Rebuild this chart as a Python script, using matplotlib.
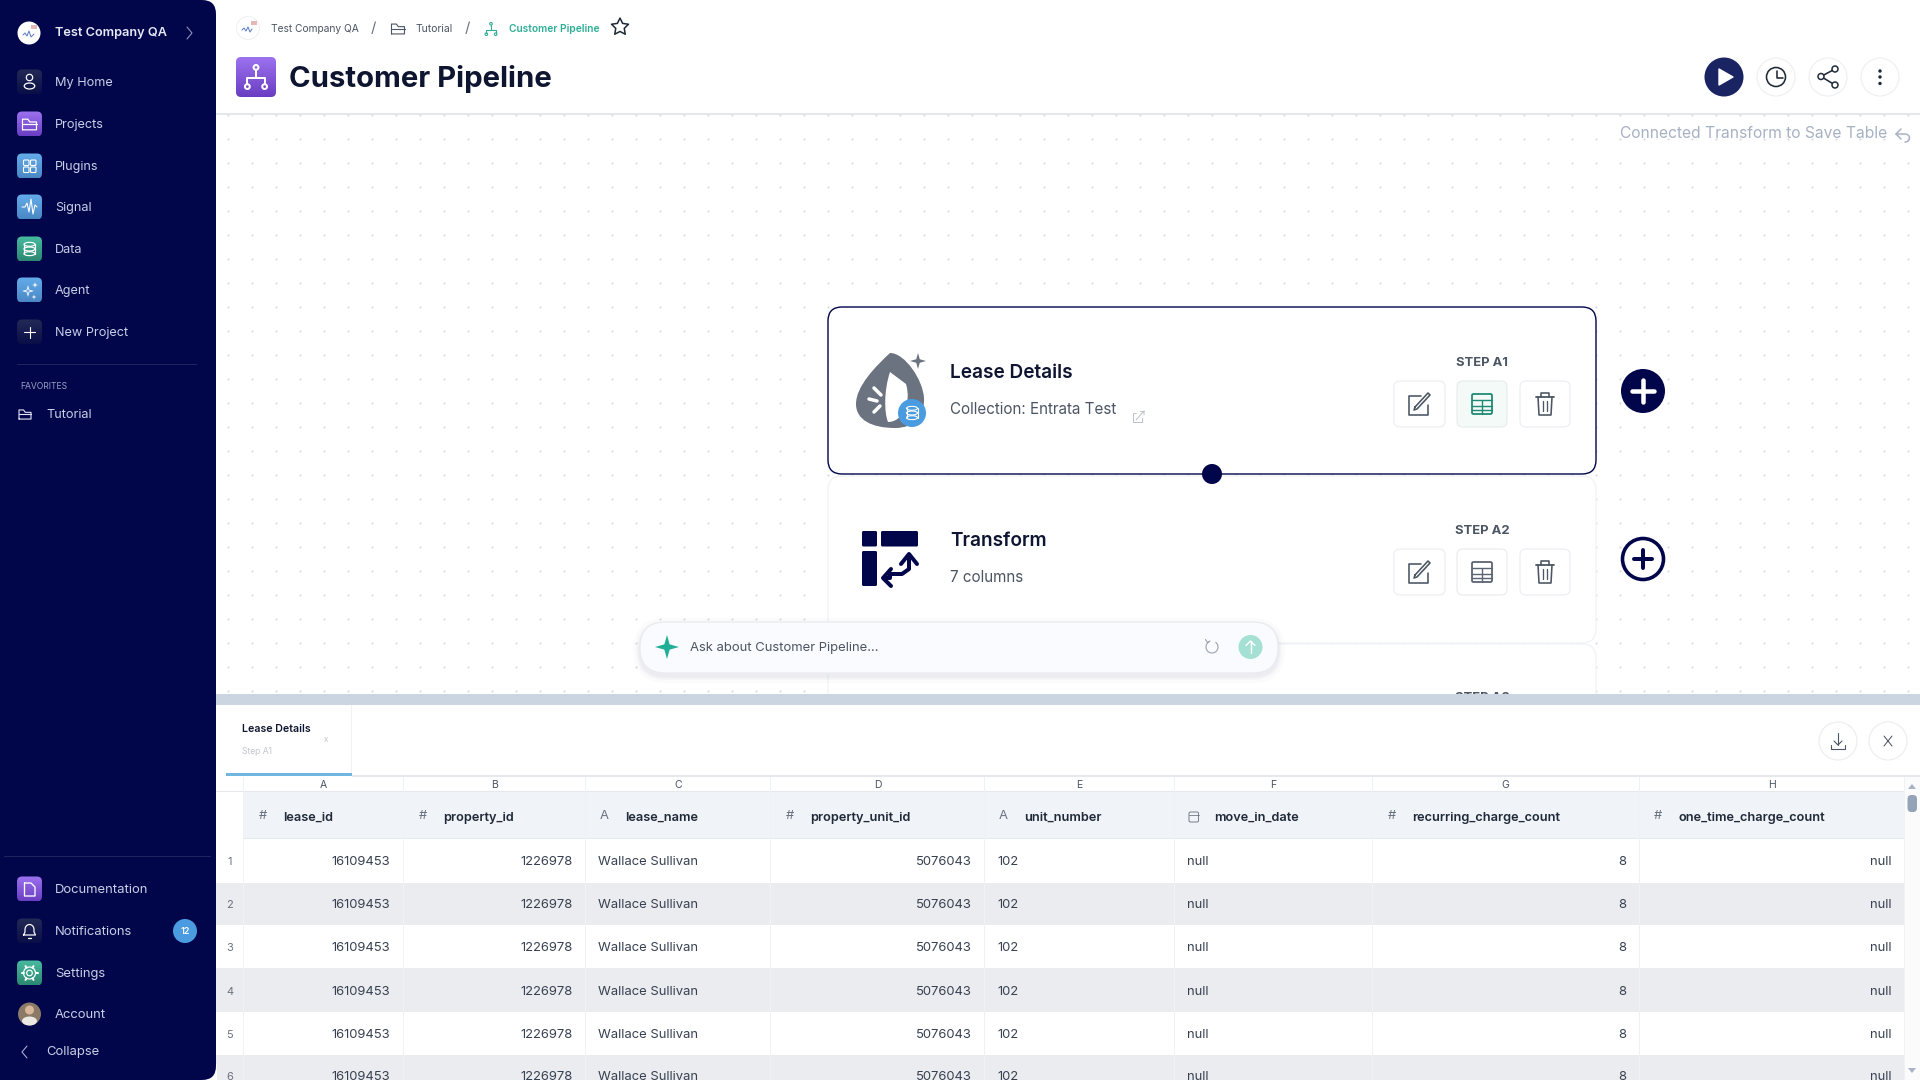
#!/usr/bin/env python3

"""
Customer Pipeline screen, drawn in pixel coordinates on one full-figure axes.
"""

import numpy as np
import matplotlib
matplotlib.use("Agg")
import matplotlib.pyplot as plt
from matplotlib.colors import LinearSegmentedColormap
from matplotlib.patches import Circle, Ellipse, FancyBboxPatch, PathPatch, Polygon, Rectangle
from matplotlib.path import Path

plt.rcParams['font.family'] = ['Inter', 'DejaVu Sans']

# ============================================================================
# Data
# ============================================================================

COMPANY = "Test Company QA"
PAGE_TITLE = "Customer Pipeline"
FOLDER_NAME = "Tutorial"

NAV_TOP = ["My Home", "Projects", "Plugins", "Signal", "Data", "Agent", "New Project"]
NAV_BOTTOM = ["Documentation", "Notifications", "Settings", "Account"]
NOTIFICATION_COUNT = "12"

STEP_TITLES = ["Lease Details", "Transform"]
STEP_SUBTITLES = ["Collection: Entrata Test", "7 columns"]
STEP_LABELS = ["STEP A1", "STEP A2", "STEP A3"]

COLUMN_LETTERS = ["A", "B", "C", "D", "E", "F", "G", "H"]
COLUMN_NAMES = ["lease_id", "property_id", "lease_name", "property_unit_id",
                "unit_number", "move_in_date", "recurring_charge_count",
                "one_time_charge_count"]
COLUMN_TYPES = ["#", "#", "A", "#", "A", "date", "#", "#"]

ROW_NUMBERS = [1, 2, 3, 4, 5, 6]
LEASE_ID = [16109453, 16109453, 16109453, 16109453, 16109453, 16109453]
PROPERTY_ID = [1226978, 1226978, 1226978, 1226978, 1226978, 1226978]
LEASE_NAME = ["Wallace Sullivan"] * 6
PROPERTY_UNIT_ID = [5076043, 5076043, 5076043, 5076043, 5076043, 5076043]
UNIT_NUMBER = ["102", "102", "102", "102", "102", "102"]
MOVE_IN_DATE = ["null"] * 6
RECURRING_CHARGE_COUNT = [8, 8, 8, 8, 8, 8]
ONE_TIME_CHARGE_COUNT = ["null"] * 6

# ============================================================================
# Layout and colours
# ============================================================================

NAVY = "#01054a"
INK = "#0e1530"
SIDE_TEXT = "#c9cfe6"
GRAY_TEXT = "#4b5563"
TEAL = "#2fae96"

NAV_TOP_Y = [82, 124, 166, 207, 249, 290, 332]
NAV_BOTTOM_Y = [889, 931, 973, 1014]

COLUMN_EDGES = [243.5, 403.5, 585.5, 770.5, 984.5, 1174.5, 1372.5, 1639, 1904.5]
ROW_EDGES = [838, 883, 925, 968, 1012, 1055, 1098]
ROW_CENTERS = [861, 904, 947, 991, 1034, 1076]

PURPLE = ("#9c72f0", "#6a3ec2")
BLUE = ("#64aceb", "#4a88c4")
GREEN = ("#48bba0", "#2c8872")
DARK = ("#232a55", "#090e47")

fig = plt.figure(figsize=(19.2, 10.8), dpi=100, facecolor="white")
ax = fig.add_axes([0, 0, 1, 1])
ax.set_xlim(0, 1920)
ax.set_ylim(1080, 0)
ax.axis("off")

_z = [10]


def nz():
    _z[0] += 1
    return _z[0]


# ============================================================================
# Drawing helpers (all sizes in pixels)
# ============================================================================

def rrect(x0, y0, x1, y1, r=0, fc="white", ec="none", lw=1.0, alpha=None):
    patch = FancyBboxPatch((x0, y0), x1 - x0, y1 - y0,
                           boxstyle=f"round,pad=0,rounding_size={r}",
                           fc=fc, ec=ec, lw=lw * 0.72, alpha=alpha, zorder=nz())
    ax.add_patch(patch)
    return patch


def rect(x0, y0, x1, y1, fc):
    ax.add_patch(Rectangle((x0, y0), x1 - x0, y1 - y0, fc=fc, ec="none", zorder=nz()))


def txt(x, y, s, px=13, color=INK, weight="normal", ha="left", va="center"):
    # text sits about a pixel lower in the browser than matplotlib's centre
    ax.text(x, y + 1, s, fontsize=px * 0.72, color=color, fontweight=weight,
            ha=ha, va=va, zorder=nz())


def line(xs, ys, color, lw=1.5):
    ax.plot(xs, ys, color=color, lw=lw * 0.72, solid_capstyle="round",
            solid_joinstyle="round", zorder=nz())


def circ(cx, cy, r, fc="none", ec="none", lw=1.0):
    ax.add_patch(Circle((cx, cy), r, fc=fc, ec=ec, lw=lw * 0.72, zorder=nz()))


def gradient_tile(x0, y0, x1, y1, r, colors):
    cmap = LinearSegmentedColormap.from_list("tile", list(colors))
    grad = np.linspace(0, 1, 64).reshape(-1, 1)
    im = ax.imshow(grad, cmap=cmap, extent=(x0, x1, y1, y0), aspect="auto", zorder=nz())
    clip = FancyBboxPatch((x0, y0), x1 - x0, y1 - y0,
                          boxstyle=f"round,pad=0,rounding_size={r}",
                          fc="none", ec="none", transform=ax.transData)
    ax.add_patch(clip)
    im.set_clip_path(clip)
    ax.set_xlim(0, 1920)
    ax.set_ylim(1080, 0)


def star4(cx, cy, r, color):
    k = r * 0.22
    pts = [(cx, cy - r), (cx + k, cy - k), (cx + r, cy), (cx + k, cy + k),
           (cx, cy + r), (cx - k, cy + k), (cx - r, cy), (cx - k, cy - k)]
    ax.add_patch(Polygon(pts, fc=color, ec="none", zorder=nz()))


def folder_icon(cx, cy, s, color, lw=1.3):
    xs = np.array([-.5, -.5, -.12, .02, .5, .5, -.5]) * s + cx
    ys = np.array([.38, -.38, -.38, -.18, -.18, .38, .38]) * s + cy
    line(xs, ys, color, lw)
    line([cx - .5 * s, cx + .5 * s], [cy - .02 * s, cy - .02 * s], color, lw)


def tree_icon(cx, cy, s, color, lw=1.5):
    circ(cx, cy - .4 * s, .1 * s, ec=color, lw=lw)
    circ(cx - .36 * s, cy + .4 * s, .1 * s, ec=color, lw=lw)
    circ(cx + .36 * s, cy + .4 * s, .1 * s, ec=color, lw=lw)
    line([cx, cx], [cy - .3 * s, cy + .05 * s], color, lw)
    line([cx - .36 * s, cx - .36 * s, cx + .36 * s, cx + .36 * s],
         [cy + .3 * s, cy + .05 * s, cy + .05 * s, cy + .3 * s], color, lw)


def db_icon(cx, cy, w, h, color, lw=1.2):
    for dy in (-.36, 0, .36):
        ax.add_patch(Ellipse((cx, cy + dy * h), w, h * .3, fc="none", ec=color,
                             lw=lw * 0.72, zorder=nz()))
    line([cx - w / 2, cx - w / 2], [cy - .36 * h, cy + .36 * h], color, lw)
    line([cx + w / 2, cx + w / 2], [cy - .36 * h, cy + .36 * h], color, lw)


def pencil_icon(cx, cy, color):
    line([cx + 2, cx - 10, cx - 10, cx + 9, cx + 9],
         [cy - 8, cy - 8, cy + 11, cy + 11, cy + 1], color, 1.6)
    line([cx - 4, cx + 9, cx + 11, cx - 2, cx - 5, cx - 4],
         [cy + 3, cy - 11, cy - 9, cy + 5, cy + 6, cy + 3], color, 1.6)


def table_icon(cx, cy, color):
    rrect(cx - 10, cy - 10, cx + 10, cy + 10, 1.5, fc="none", ec=color, lw=1.8)
    for dy in (-4, 1.5, 6):
        line([cx - 10, cx + 10], [cy + dy, cy + dy], color, 1.4)
    line([cx, cx], [cy - 4, cy + 10], color, 1.4)


def trash_icon(cx, cy, color):
    line([cx - 9, cx + 9], [cy - 7, cy - 7], color, 1.8)
    line([cx - 4, cx - 4, cx + 4, cx + 4], [cy - 7, cy - 11, cy - 11, cy - 7], color, 1.6)
    line([cx - 7, cx - 6, cx + 6, cx + 7], [cy - 7, cy + 11, cy + 11, cy - 7], color, 1.6)
    line([cx - 2.3, cx - 2.3], [cy - 3, cy + 7], color, 1.3)
    line([cx + 2.3, cx + 2.3], [cy - 3, cy + 7], color, 1.3)


# ============================================================================
# Canvas: dot grid and header
# ============================================================================

dot_x, dot_y = np.meshgrid(np.arange(228, 1920, 24), np.arange(115, 694, 24))
ax.scatter(dot_x.ravel(), dot_y.ravel(), s=2.4, c="#d9dbe0", linewidths=0, zorder=nz())

rect(216, 0, 1920, 113, "white")
rect(216, 113, 1920, 114.5, "#e3e6ea")

# breadcrumb
circ(248, 28, 11.5, fc="white", ec="#f0f0f2", lw=1)
line([242, 244, 246, 248, 250, 252], [30, 28, 31, 27, 32, 29], "#5b7cc0", 1)
rect(251, 21, 257, 25, "#e4b8b8")
txt(271, 27.5, COMPANY, 10.2, GRAY_TEXT)
txt(373, 27, "/", 15, "#6b7280", ha="center")
folder_icon(398, 29, 13, "#4b5563", 1.1)
txt(416, 27.5, FOLDER_NAME, 10.4, GRAY_TEXT)
txt(467, 27, "/", 15, "#6b7280", ha="center")
tree_icon(491, 29, 13, TEAL, 1.1)
txt(509, 27.5, PAGE_TITLE, 10.2, TEAL, weight="semibold")
ax.scatter([620], [27], marker=(5, 1), s=165, fc="none", ec="#1f2937", linewidths=1.1, zorder=nz())

# title
gradient_tile(236, 57, 276, 97, 5, PURPLE)
tree_icon(256, 77, 24, "white", 2)
txt(289, 78, PAGE_TITLE, 29.3, INK, weight="bold")

# toolbar buttons
circ(1724, 77, 19.5, fc="#1a2463")
ax.add_patch(Polygon([(1719, 69), (1719, 85), (1733, 77)], fc="white", ec="white",
                     lw=1, joinstyle="round", zorder=nz()))
for cx in (1776, 1828, 1880):
    circ(cx, 77, 19, fc="white", ec="#eff0f3", lw=1.2)
circ(1776, 77, 9.5, ec="#1f2937", lw=1.6)
line([1777, 1777, 1783], [71, 78, 78], "#1f2937", 1.6)
line([1835, 1821, 1835], [69, 76.5, 85], "#1f2937", 1.6)
for px, py in ((1835, 69), (1821, 76.5), (1835, 85)):
    circ(px, py, 3, fc="white", ec="#1f2937", lw=1.5)
for py in (71, 77, 83.5):
    circ(1880, py, 1.7, fc="#1f2937")

# hint with undo arrow
txt(1620, 133, "Connected Transform to Save Table", 15.6, "#a7b1c4")
line([1901, 1896, 1901], [129, 134, 139], "#a7b1c4", 1.5)
undo_theta = np.linspace(-1.57, 1.57, 20)
line(np.r_[1896, 1905 + 4.5 * np.cos(undo_theta)],
     np.r_[134, 138 + 4 * np.sin(undo_theta)], "#a7b1c4", 1.5)

# ============================================================================
# Step cards
# ============================================================================

rrect(828, 476, 1596, 643, 14, fc="white", ec="#f1f2f5", lw=1.2)
rrect(828, 644, 1596, 760, 14, fc="white", ec="#f1f2f5", lw=1.2)
txt(1482, 697, STEP_LABELS[2], 13, GRAY_TEXT, weight="bold", ha="center")
rrect(828, 307, 1596, 474, 14, fc="white", ec=NAVY, lw=1.4)
circ(1212, 474, 10, fc=NAVY)

# Lease Details icon
blob = Path([(890, 353), (876, 366), (856, 386), (856, 404), (856, 420), (872, 428), (895, 428),
             (915, 428), (925, 415), (924, 398), (923, 380), (905, 353), (890, 353)],
            [Path.MOVETO] + [Path.CURVE4] * 12)
ax.add_patch(PathPatch(blob, fc="#6b7280", ec="none", zorder=nz()))
leaf = Path([(890, 372), (884, 390), (884, 412), (888, 422), (902, 422), (912, 404), (906, 384), (890, 372)],
            [Path.MOVETO] + [Path.CURVE4] * 6 + [Path.LINETO])
ax.add_patch(PathPatch(leaf, fc="white", ec="none", zorder=nz()))
for x0, y0, x1, y1 in ((874, 388, 881, 395), (869, 399, 877, 401), (874, 412, 880, 406), (898, 385, 902, 396)):
    line([x0, x1], [y0, y1], "white", 3.5)
star4(918, 361, 8, "#6b7280")
circ(912, 413, 14, fc="#4a9be0")
db_icon(912, 413, 11, 13, "white", 1.1)

# Transform icon
rrect(862, 531, 877, 546.5, 1.5, fc=NAVY)
rrect(881, 531, 918, 546.5, 1.5, fc=NAVY)
rrect(862, 551, 877, 586, 1.5, fc=NAVY)
line([909, 909, 902, 890, 890, 884], [556, 569, 574, 574, 578, 578], NAVY, 4)
line([901, 909, 917], [564, 554, 564], NAVY, 4)
line([891, 883, 891], [569, 578, 586], NAVY, 4)

# titles, subtitles, action buttons
CARD_TITLE_Y = [372, 540]
CARD_SUB_Y = [409, 577]
CARD_STEP_Y = [362, 530]
CARD_BTN_TOP = [381, 549]
for i in range(2):
    txt(950.5, CARD_TITLE_Y[i], STEP_TITLES[i], 19, INK, weight="semibold")
    txt(950.5, CARD_SUB_Y[i], STEP_SUBTITLES[i], 15.2, GRAY_TEXT)
    txt(1482, CARD_STEP_Y[i], STEP_LABELS[i], 13, GRAY_TEXT, weight="bold", ha="center")
    top = CARD_BTN_TOP[i]
    rrect(1394, top, 1445, top + 46, 6, fc="white", ec="#eceef2", lw=1.2)
    rrect(1457, top, 1507, top + 46, 6, fc="#f3faf8" if i == 0 else "white", ec="#e9ecef", lw=1.2)
    rrect(1520, top, 1570, top + 46, 6, fc="white", ec="#eceef2", lw=1.2)
    pencil_icon(1419, top + 23, "#4b5563")
    table_icon(1482, top + 23, "#1f8a73" if i == 0 else "#5b6472")
    trash_icon(1545, top + 23, "#4b5563")

# open link icon
line([1136, 1133, 1133, 1142, 1142], [413, 413, 422, 422, 418], "#b6bbc4", 0.9)
line([1136, 1144, 1144], [420, 411, 415], "#b6bbc4", 0.9)
line([1140, 1144], [411, 411], "#b6bbc4", 0.9)

# add-step buttons
circ(1643, 391, 22, fc=NAVY)
line([1632, 1654], [391, 391], "white", 4.5)
line([1643, 1643], [380, 402], "white", 4.5)
circ(1643, 559, 20.5, fc="white", ec=NAVY, lw=3.6)
line([1634, 1652], [559, 559], NAVY, 4)
line([1643, 1643], [550, 568], NAVY, 4)

# ============================================================================
# Ask bar
# ============================================================================

for grow, alpha in ((7, .03), (4, .05), (2, .07)):
    rrect(640 - grow, 622 - grow + 3, 1278 + grow, 673 + grow + 3, 26 + grow, fc="#8890a8", alpha=alpha)
rrect(640, 622, 1278, 673, 25.5, fc="#fafbfe", ec="#e9ebf0", lw=1.2)
star4(667, 647, 12, "#1fae96")
txt(689.5, 647, "Ask about " + PAGE_TITLE + "...", 13, "#4b5563")
theta = np.linspace(-0.9, 4.2, 30)
line(1212 + 6 * np.cos(theta), 647 + 6 * np.sin(theta), "#9aa1ad", 1.1)
line([1205.5, 1207.5, 1210], [639.5, 642.5, 641], "#9aa1ad", 1.1)
circ(1250.5, 647, 12, fc="#a4e0d4")
line([1250.5, 1250.5], [653, 641], "white", 1.4)
line([1246, 1250.5, 1255], [645.5, 641, 645.5], "white", 1.4)

# ============================================================================
# Lower panel: tab strip
# ============================================================================

rect(216, 705, 1920, 1080, "white")
rect(216, 694, 1920, 705, "#cbd5e1")
rect(351, 705, 352, 776, "#f0f2f5")
rect(226, 773, 351.5, 776, "#6fb6e0")
rect(351.5, 775, 1920, 777, "#e5e8ec")
txt(242, 728, STEP_TITLES[0], 10.6, INK, weight="semibold")
txt(242, 750, "Step A1", 8.6, "#c3c7cf")
txt(326, 738, "x", 8, "#c3c7cf", ha="center")

circ(1838, 741, 19, fc="white", ec="#eceef1", lw=1.2)
circ(1888, 741, 19, fc="white", ec="#eceef1", lw=1.2)
line([1838, 1838], [733, 745], "#4b5563", 1.1)
line([1834, 1838, 1842], [741, 745, 741], "#4b5563", 1.1)
line([1831, 1831, 1845, 1845], [745, 749, 749, 745], "#4b5563", 1.1)
line([1884, 1892], [736, 746], "#374151", 0.9)
line([1884, 1892], [746, 736], "#374151", 0.9)

# ============================================================================
# Lower panel: data table
# ============================================================================

rect(216, 791, 1904.5, 838, "#f0f3f8")
rect(216, 791, 243.5, 838, "white")
rect(216, 790.5, 1904.5, 791.5, "#e5e8ec")
rect(243.5, 837.5, 1904.5, 838.5, "#e5e8ec")

for i in range(6):
    if i % 2 == 1:
        rect(216, ROW_EDGES[i], 1904.5, min(ROW_EDGES[i + 1], 1080), "#ebecef")

for edge in COLUMN_EDGES:
    rect(edge - .5, 777, edge + .5, 1080, "#eff1f4")

table_columns = [LEASE_ID, PROPERTY_ID, LEASE_NAME, PROPERTY_UNIT_ID, UNIT_NUMBER,
                 MOVE_IN_DATE, RECURRING_CHARGE_COUNT, ONE_TIME_CHARGE_COUNT]
RIGHT_ALIGNED = ["lease_id", "property_id", "property_unit_id",
                 "recurring_charge_count", "one_time_charge_count"]

for c, name in enumerate(COLUMN_NAMES):
    left = COLUMN_EDGES[c]
    right = COLUMN_EDGES[c + 1]
    txt((left + right) / 2, 784, COLUMN_LETTERS[c], 10.5, "#4b5563", ha="center")

    if COLUMN_TYPES[c] == "date":
        rrect(left + 14.5, 812, left + 24, 822, 1.5, fc="none", ec="#6b7280", lw=0.9)
        line([left + 14.5, left + 24], [815, 815], "#6b7280", 0.8)
    else:
        txt(left + 19, 815, COLUMN_TYPES[c], 13, "#6b7280", ha="center")
    txt(left + 39.5, 817, name, 12.75, "#1f2937", weight="semibold")

    for r, value in enumerate(table_columns[c]):
        if name in RIGHT_ALIGNED:
            txt(right - 13, ROW_CENTERS[r], str(value), 13, "#374151", ha="right")
        else:
            txt(left + 13, ROW_CENTERS[r], str(value), 13, "#374151")

for r, number in enumerate(ROW_NUMBERS):
    txt(229.7, ROW_CENTERS[r], str(number), 11, "#6b7280", ha="center")

# scrollbar
rect(1904.5, 777, 1920, 1080, "#fbfbfc")
rrect(1907.5, 795, 1917, 812, 4, fc="#94a3b8")
ax.add_patch(Polygon([(1908, 789), (1916, 789), (1912, 784)], fc="#a8b3c4", ec="none", zorder=nz()))
ax.add_patch(Polygon([(1908, 1068), (1916, 1068), (1912, 1073)], fc="#a8b3c4", ec="none", zorder=nz()))

# ============================================================================
# Sidebar
# ============================================================================

rrect(-30, -30, 216, 1110, 0, fc=NAVY)
rect(200, 0, 216.5, 16, "white")
rect(200, 1064, 216.5, 1080, "white")
rrect(170, 0, 216, 1080, 14, fc=NAVY)

circ(29, 33, 11.5, fc="white")
line([23, 25, 27, 29, 31, 34], [35, 33, 36, 31, 37, 34], "#5b7cc0", 1)
rect(31, 25, 37, 29, "#e4b8b8")
txt(55, 32, COMPANY, 12.7, "#e6e9f5", weight="semibold")
line([187, 192, 187], [27, 33, 39], "#8d93b8", 1.1)

top_tiles = [DARK, PURPLE, BLUE, BLUE, GREEN, BLUE, DARK]
for label, y, tile in zip(NAV_TOP, NAV_TOP_Y, top_tiles):
    gradient_tile(17, y - 12.5, 42, y + 12.5, 5, tile)
    txt(55, y, label, 12.7, SIDE_TEXT)

# my home
circ(29.5, 77.5, 3.2, ec="white", lw=1.2)
ax.add_patch(Ellipse((29.5, 86), 10.5, 6, fc="none", ec="white", lw=0.9, zorder=nz()))
folder_icon(29.5, 124.5, 14, "white", 1.2)
# plugins
for dx, dy in ((-6, -6), (1, -6), (-6, 1), (1, 1)):
    rrect(29.5 + dx, 166 + dy, 29.5 + dx + 5.5, 166 + dy + 5.5, 1, fc="none", ec="white", lw=1.1)
# signal
line([22, 25, 27, 29, 31, 33, 35, 37], [207, 207, 203, 212, 199, 214, 205, 207], "white", 1.1)
db_icon(29.5, 249, 11, 13, "white", 1.2)
star4(28, 291, 6, "white")
star4(35, 285, 3, "white")
star4(34, 297, 2.5, "white")
star4(28, 291, 3, "#5a9fdd")
line([24, 35], [332, 332], "white", 1.1)
line([29.5, 29.5], [326.5, 337.5], "white", 1.1)

rect(17, 364, 197, 365, "#1d2560")
txt(20, 385.5, "FAVORITES", 8.6, "#9aa1c4")
folder_icon(25, 414.5, 12, "#e6e9f5", 1.1)
txt(46, 414.5, FOLDER_NAME, 12.7, SIDE_TEXT)

rect(4, 856, 211, 857, "#1d2560")
for label, y, tile in zip(NAV_BOTTOM[:3], NAV_BOTTOM_Y[:3], (PURPLE, DARK, GREEN)):
    gradient_tile(17, y - 12.5, 42, y + 12.5, 5, tile)
for label, y in zip(NAV_BOTTOM, NAV_BOTTOM_Y):
    txt(55, y, label, 13, SIDE_TEXT)

# documentation
line([24.5, 31, 35, 35, 24.5, 24.5], [883, 883, 887, 896, 896, 883], "white", 1.3)
# bell
bell_t = np.linspace(np.pi, 2 * np.pi, 14)
line(np.r_[23.5, 25, 29.5 + 4.5 * np.cos(bell_t), 34, 35.5, 23.5],
     np.r_[935, 932, 929.5 + 5 * np.sin(bell_t), 932, 935, 935], "white", 1.2)
line([28, 31], [937.5, 937.5], "white", 1.3)
# gear
circ(29.5, 973, 2.8, ec="white", lw=1.2)
circ(29.5, 973, 6, ec="white", lw=1.2)
for a in np.arange(0, 2 * np.pi, np.pi / 3):
    line([29.5 + 6 * np.cos(a), 29.5 + 8 * np.cos(a)],
         [973 + 6 * np.sin(a), 973 + 8 * np.sin(a)], "white", 2)

# account photo
circ(29.5, 1014, 11.5, fc="#8a7a66")
circ(29.5, 1010, 4.5, fc="#d9b79a")
ax.add_patch(Ellipse((29.5, 1021), 15, 9, fc="#ece9e4", ec="none", zorder=nz()))

circ(185, 931, 12, fc="#4a9be0")
txt(185, 930, NOTIFICATION_COUNT, 9, "white", weight="semibold", ha="center")

line([27, 22, 27], [1046, 1052, 1058], "#a9afcc", 1.1)
txt(46, 1051, "Collapse", 13, SIDE_TEXT)

fig.savefig("out.png", dpi=100)
